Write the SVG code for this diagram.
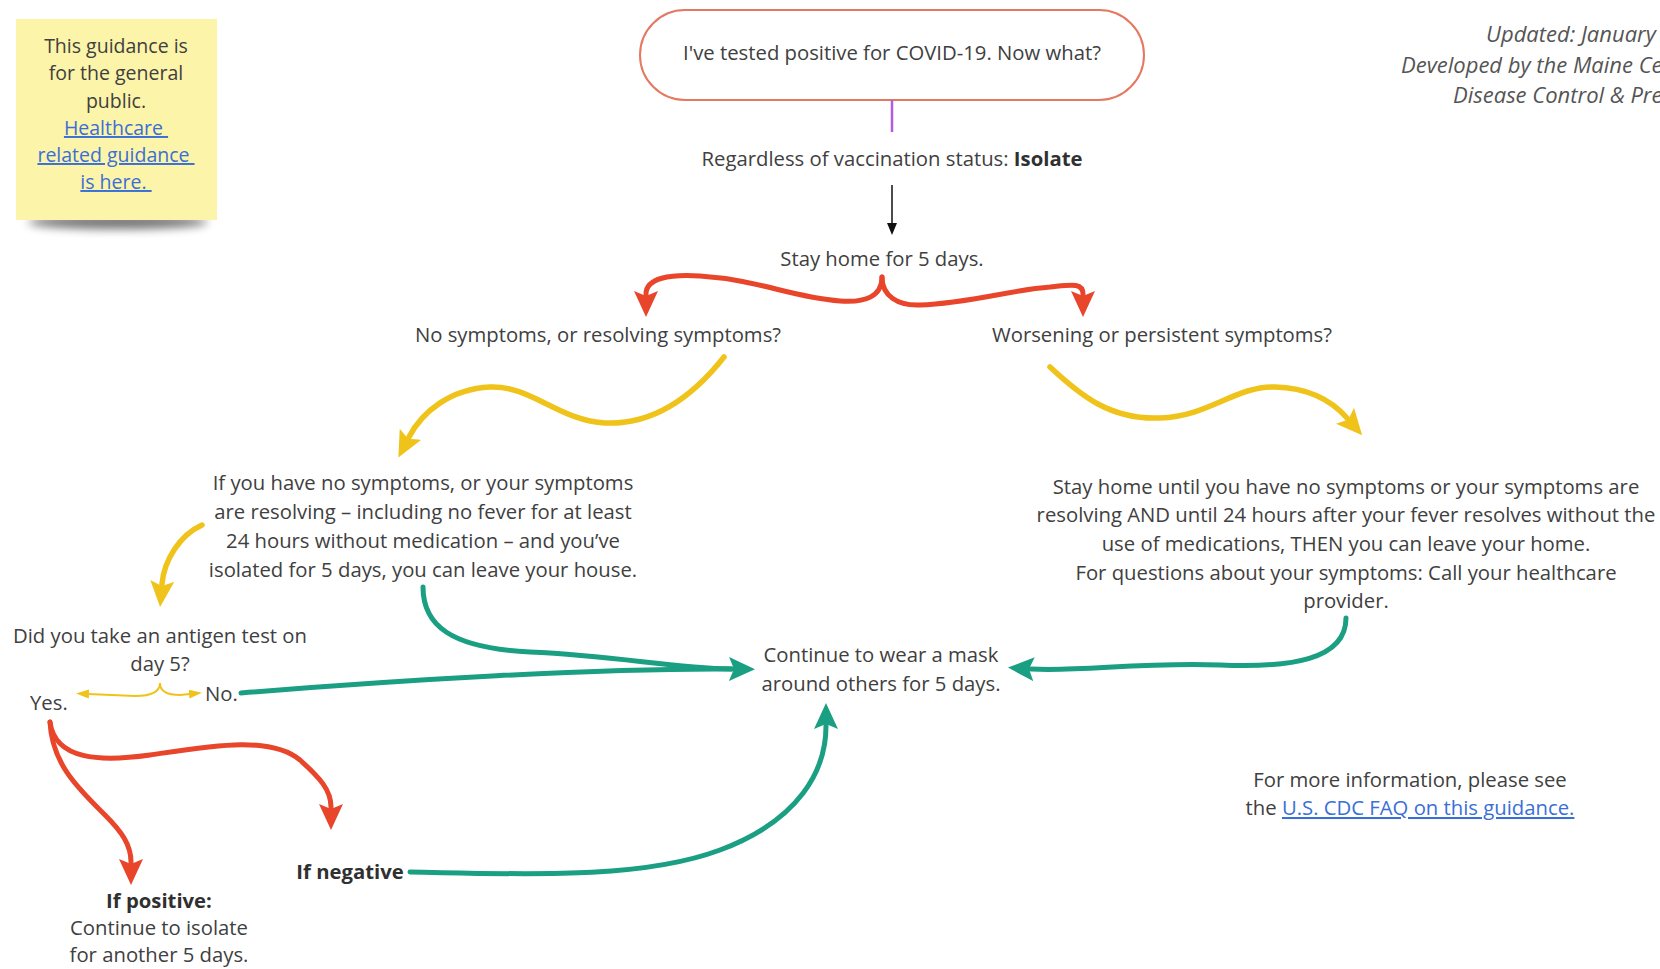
<svg xmlns="http://www.w3.org/2000/svg" width="1660" height="969" viewBox="0 0 1660 969">
<defs>
<style>
text{font-family:"Open Sans","Liberation Sans",sans-serif;font-size:20.3px;fill:#404040}
.c{text-anchor:middle}
.b{font-weight:bold;fill:#303030}
.i{font-style:italic;fill:#555;font-size:22px}
.n{font-size:19.5px}
.lnk{fill:#3a6fd8;text-decoration:underline}
.red{fill:none;stroke:#e8452b;stroke-width:5;stroke-linecap:round}
.yel{fill:none;stroke:#f0c31a;stroke-width:5.5;stroke-linecap:round}
.yth{fill:none;stroke:#f0c31a;stroke-width:2}
.grn{fill:none;stroke:#1a9f83;stroke-width:5;stroke-linecap:round}
</style>
<marker id="ar" markerUnits="userSpaceOnUse" markerWidth="30" markerHeight="30" refX="3" refY="12" orient="auto"><path d="M0,0 L26,12 L0,24 L5,12 z" fill="#e8452b"/></marker>
<marker id="ay" markerUnits="userSpaceOnUse" markerWidth="30" markerHeight="30" refX="3" refY="12" orient="auto"><path d="M0,0 L26,12 L0,24 L5,12 z" fill="#f0c31a"/></marker>
<marker id="ays" markerUnits="userSpaceOnUse" markerWidth="16" markerHeight="12" refX="1" refY="4.5" orient="auto"><path d="M0,0 L13,4.5 L0,9 z" fill="#f0c31a"/></marker>
<marker id="ag" markerUnits="userSpaceOnUse" markerWidth="30" markerHeight="30" refX="3" refY="12" orient="auto"><path d="M0,0 L26,12 L0,24 L5,12 z" fill="#1a9f83"/></marker>
<marker id="ak" markerUnits="userSpaceOnUse" markerWidth="14" markerHeight="14" refX="1" refY="5" orient="auto"><path d="M0,0 L12,5 L0,10 z" fill="#111"/></marker>
<filter id="sh" x="-20%" y="-100%" width="140%" height="300%"><feGaussianBlur stdDeviation="5"/></filter>
</defs>
<rect width="1660" height="969" fill="#fff"/>

<g id="note">
<ellipse cx="118" cy="222" rx="90" ry="7" fill="#000" opacity="0.55" filter="url(#sh)"/>
<rect x="16" y="19" width="201" height="201" fill="#fcf4a8"/>
<text class="c n" x="116" y="53">This guidance is</text>
<text class="c n" x="116" y="80">for the general</text>
<text class="c n" x="116" y="108">public.</text>
<text class="c n lnk" x="116" y="135">Healthcare&#160;</text>
<text class="c n lnk" x="116" y="162">related guidance&#160;</text>
<text class="c n lnk" x="116" y="189">is here.&#160;</text>
</g>

<g id="updated">
<text class="i" x="1486" y="42">Updated: January 3</text>
<text class="i" x="1401" y="73">Developed by the Maine Cent</text>
<text class="i" x="1453" y="103">Disease Control &amp; Prev</text>
</g>

<g id="start">
<rect x="640" y="10" width="504" height="90" rx="45" fill="#fff" stroke="#e57860" stroke-width="2"/>
<text class="c" x="892" y="60">I've tested positive for COVID-19. Now what?</text>
</g>

<g id="isolate"><text class="c" x="892" y="166">Regardless of vaccination status: <tspan class="b">Isolate</tspan></text></g>
<g id="stayhome"><text class="c" x="882" y="266">Stay home for 5 days.</text></g>
<g id="nosym"><text class="c" x="598" y="342">No symptoms, or resolving symptoms?</text></g>
<g id="worse"><text class="c" x="1162" y="342">Worsening or persistent symptoms?</text></g>

<g id="leave">
<text class="c" x="423" y="490">If you have no symptoms, or your symptoms</text>
<text class="c" x="423" y="519">are resolving – including no fever for at least</text>
<text class="c" x="423" y="548">24 hours without medication – and you’ve</text>
<text class="c" x="423" y="577">isolated for 5 days, you can leave your house.</text>
</g>

<g id="stayuntil">
<text class="c" x="1346" y="494">Stay home until you have no symptoms or your symptoms are</text>
<text class="c" x="1346" y="522">resolving AND until 24 hours after your fever resolves without the</text>
<text class="c" x="1346" y="551">use of medications, THEN you can leave your home.</text>
<text class="c" x="1346" y="580">For questions about your symptoms: Call your healthcare</text>
<text class="c" x="1346" y="608">provider.</text>
</g>

<g id="antigen">
<text class="c" x="160" y="643">Did you take an antigen test on</text>
<text class="c" x="160" y="671">day 5?</text>
</g>
<g id="yes"><text x="30" y="710">Yes.</text></g>
<g id="no"><text x="205" y="701">No.</text></g>

<g id="mask">
<text class="c" x="881" y="662">Continue to wear a mask</text>
<text class="c" x="881" y="691">around others for 5 days.</text>
</g>

<g id="negative"><text class="b c" x="350" y="879">If negative</text></g>
<g id="positive">
<text class="b c" x="159" y="908">If positive:</text>
<text class="c" x="159" y="935">Continue to isolate</text>
<text class="c" x="159" y="962">for another 5 days.</text>
</g>

<g id="moreinfo">
<text class="c" x="1410" y="787">For more information, please see</text>
<text class="c" x="1410" y="815">the <tspan class="lnk">U.S. CDC FAQ on this guidance.</tspan></text>
</g>

<g id="connectors">
<line x1="892" y1="100" x2="892" y2="132" stroke="#b45ce0" stroke-width="2.5"/>
<line x1="892" y1="185" x2="892" y2="224" stroke="#111" stroke-width="1.5" marker-end="url(#ak)"/>
<path class="red" d="M882,277 C882,296 866,303 840,301 C790,297 760,280 700,276 C670,274 646,278 646,294" marker-end="url(#ar)"/>
<path class="red" d="M882,277 C882,296 898,306 920,305 C970,303 1010,290 1050,287 C1070,285 1083,282 1083,294" marker-end="url(#ar)"/>
<path class="yel" d="M724,357 C690,400 650,425 605,423 C560,421 530,385 490,387 C450,389 422,412 409,437" marker-end="url(#ay)"/>
<path class="yel" d="M1050,367 C1080,395 1110,420 1160,418 C1210,416 1235,386 1275,387 C1310,388 1333,402 1347,418" marker-end="url(#ay)"/>
<path class="yel" d="M202,525 C180,535 164,560 162,584" marker-end="url(#ay)"/>
<path class="yth" d="M160,683 C160,692 150,696 135,696 L88,694" marker-end="url(#ays)"/>
<path class="yth" d="M160,683 C160,692 168,695 180,695 L190,694" marker-end="url(#ays)"/>
<path class="grn" d="M241,693 C400,680 600,668 732,669" marker-end="url(#ag)"/>
<path class="grn" d="M423,587 C423,625 450,648 530,652 C620,656 670,668 732,669"/>
<path class="grn" d="M1346,618 C1346,660 1290,668 1220,665 C1140,662 1080,672 1031,669" marker-end="url(#ag)"/>
<path class="grn" d="M410,872 C520,874 640,880 720,850 C800,820 826,770 826,726" marker-end="url(#ag)"/>
<path class="red" d="M50,722 C52,765 80,790 105,815 C122,832 131,845 131,862" marker-end="url(#ar)"/>
<path class="red" d="M50,722 C55,760 100,762 150,755 C210,746 270,735 300,760 C320,778 331,790 331,807" marker-end="url(#ar)"/>
</g>
</svg>
